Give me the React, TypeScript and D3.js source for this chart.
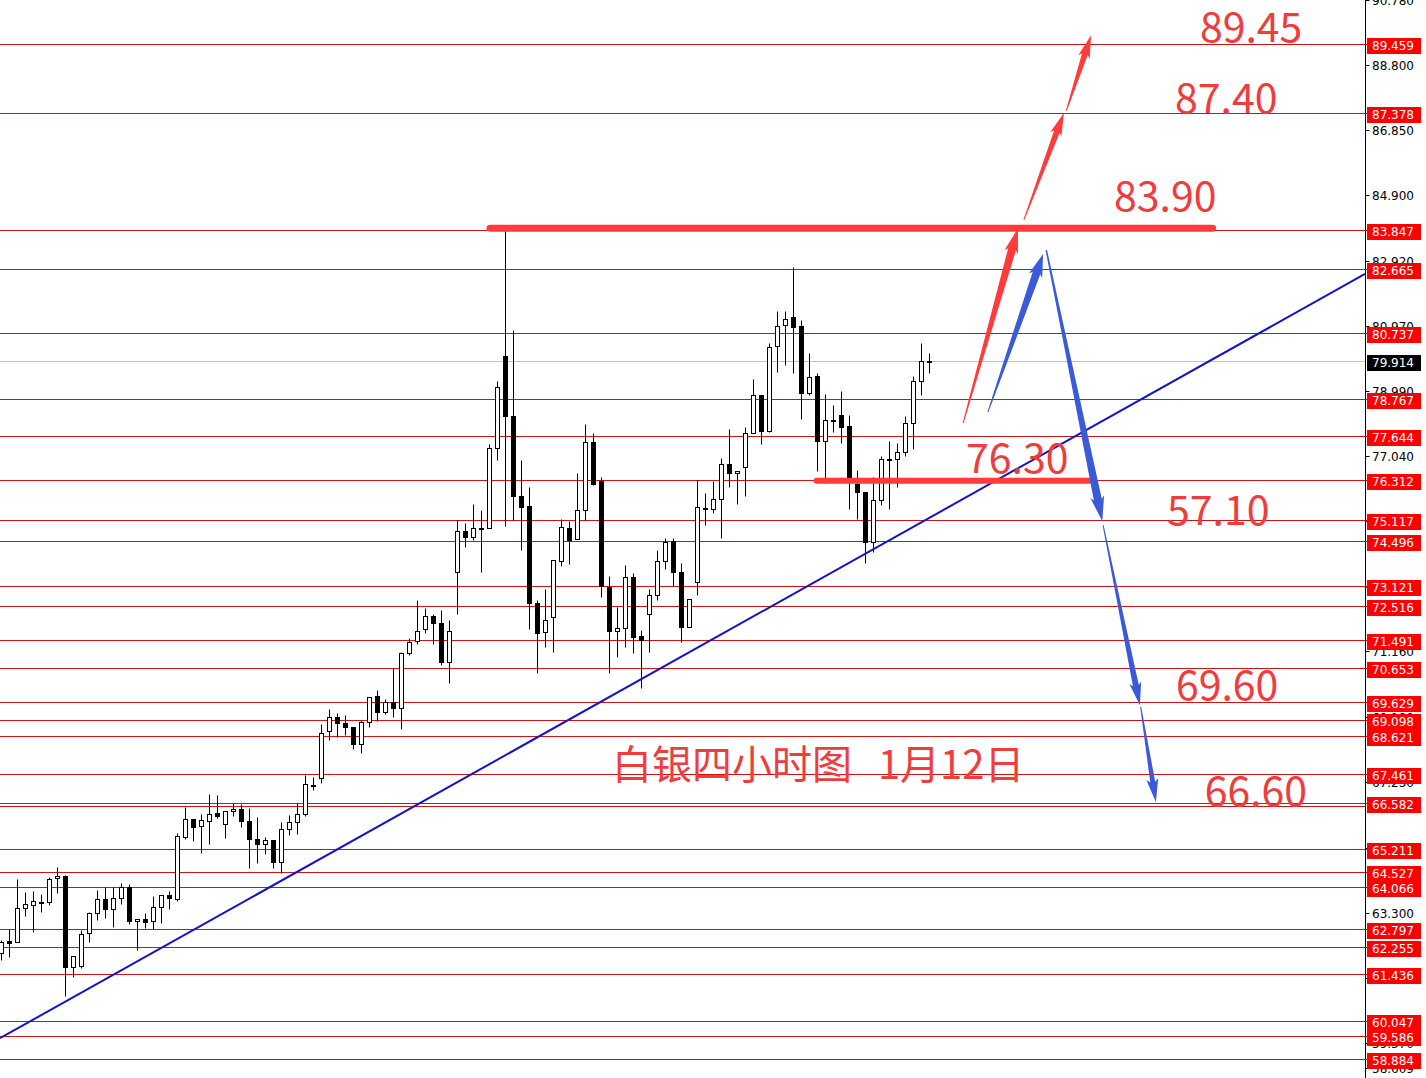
import React from 'react';
import * as d3 from 'd3';

const W = 1426;
const H = 1078;
const AXIS_X = 1365.5;

// candle OHLC (4H silver), index 0..116
const opens = [62.07,62.44,62.42,63.45,63.54,63.62,63.62,64.33,64.39,61.65,61.69,62.67,63.30,63.72,63.42,63.75,64.07,63.04,63.10,63.04,63.47,63.82,63.70,65.56,66.10,65.90,66.06,66.30,65.95,66.36,66.43,66.06,65.50,65.36,65.48,64.83,65.80,66.03,66.26,67.13,67.34,68.76,69.19,69.01,68.87,68.36,69.04,69.81,69.34,69.64,69.47,71.12,71.48,71.82,72.23,72.00,70.85,73.54,74.79,74.61,74.86,74.86,77.27,80.05,78.25,75.84,75.53,72.62,71.75,72.20,73.89,74.86,74.53,75.43,77.47,76.29,73.10,71.78,71.85,73.39,71.62,72.28,72.85,73.89,74.47,73.55,71.88,73.25,75.49,75.46,75.76,76.80,76.52,76.72,77.72,78.89,77.80,80.35,80.98,81.23,80.95,78.94,79.45,77.50,78.12,78.27,77.94,76.19,75.96,74.44,75.71,76.94,76.94,77.15,78.04,79.30,79.90];
const highs = [62.47,62.80,64.30,63.92,63.94,63.87,64.37,64.68,64.42,61.99,62.77,63.31,63.97,64.07,64.07,64.18,64.15,63.10,63.27,63.80,63.82,63.94,65.69,66.47,66.10,66.28,66.88,66.83,66.36,66.60,66.56,66.46,66.18,65.58,65.48,66.03,66.23,66.60,67.44,67.37,68.97,69.44,69.30,69.26,68.87,69.09,69.79,69.99,69.72,70.65,71.14,71.55,72.70,72.48,72.30,72.42,72.10,75.11,75.03,75.61,75.41,77.40,79.30,83.84,80.83,76.92,76.11,72.70,73.05,73.91,75.16,75.09,76.52,78.02,77.72,76.41,73.43,72.50,73.76,73.52,71.80,73.03,74.21,74.56,74.56,73.83,72.75,76.32,75.92,76.29,76.97,77.84,76.58,77.90,79.36,78.89,80.45,81.40,81.40,82.74,81.15,80.15,79.55,78.90,78.57,78.99,78.29,76.62,75.96,76.41,77.04,77.49,77.42,78.24,79.45,80.45,80.13];
const lows = [61.87,61.96,62.41,63.20,62.72,63.32,63.52,63.89,60.79,61.35,61.62,62.42,63.07,63.12,62.87,63.57,62.95,62.17,62.82,62.79,62.97,63.40,63.64,65.50,65.46,65.10,65.36,66.13,65.53,66.20,65.86,64.63,64.78,65.06,64.63,64.49,65.63,65.66,66.20,66.98,67.19,68.49,68.59,68.64,68.22,68.11,68.89,69.07,69.29,69.19,68.81,71.05,71.38,71.72,71.38,70.75,70.20,72.30,74.29,74.51,73.55,74.86,76.92,74.93,75.13,74.21,71.82,70.50,71.30,71.15,73.73,73.79,74.53,75.11,76.16,72.80,70.50,71.00,71.30,71.10,70.05,71.15,72.70,73.63,73.12,71.45,71.88,72.85,74.96,75.33,74.56,76.11,75.61,75.83,77.72,77.40,77.77,79.58,79.78,79.53,78.17,78.87,76.60,76.22,77.77,77.44,75.46,75.16,73.81,74.16,75.56,75.46,76.10,77.04,77.24,78.87,79.53];
const closes = [62.42,62.38,63.45,63.57,63.64,63.61,64.30,64.39,61.65,61.99,62.64,63.30,63.72,63.42,63.75,64.07,63.04,63.10,63.02,63.47,63.82,63.75,65.60,66.10,65.88,66.08,66.28,66.20,66.36,66.43,66.06,65.50,65.36,65.48,64.83,65.80,66.03,66.28,67.16,67.10,68.71,69.19,68.99,68.87,68.36,69.02,69.79,69.34,69.65,69.47,71.12,71.45,71.78,72.23,72.00,70.85,71.78,74.79,74.61,74.86,74.85,77.27,79.11,78.25,75.84,75.51,72.62,71.72,72.10,73.91,74.89,74.51,75.43,77.47,76.19,73.13,71.78,71.85,73.39,71.60,71.50,72.85,73.89,74.46,73.55,71.88,72.75,75.51,75.48,75.76,76.80,76.52,76.58,77.72,78.89,77.80,80.33,80.96,81.18,80.93,78.94,79.42,77.50,78.12,78.11,77.92,76.40,75.96,74.44,75.71,76.94,76.93,77.15,78.04,79.30,79.91,79.914];

// horizontal support/resistance levels with price labels
const levels = [89.459,87.378,83.847,82.665,80.737,78.767,77.644,76.312,75.117,74.496,73.121,72.516,71.491,70.653,69.629,69.098,68.621,67.461,66.582,65.211,64.527,64.066,62.797,62.255,61.436,60.047,59.586,58.884];
const unlabeledLevels = [66.50];
const currentPrice = 79.914;
const axisTicks = [90.78,88.8,86.85,84.9,82.92,80.97,78.99,77.04,75.09,73.11,71.16,69.18,67.23,65.25,63.3,61.32,59.37,58.609];

// trend line (index, price)
const trendIdx = [-0.19, 170.44];
const trendPrice = [59.516, 82.523];

// thick red key levels
const keyLevelPrice = [83.9, 76.3];
const keyLevelFrom = [61.06, 101.9];
const keyLevelTo = [151.4, 136.1];
const keyLevelWidth = [7, 6];

// arrows: [startIdx, startPrice, tipIdx, tipPrice]
const redArrowStartIdx = [120.2, 127.8, 133.1];
const redArrowStartPrice = [78.03, 84.15, 87.43];
const redArrowTipIdx = [127.06, 132.8, 136.2];
const redArrowTipPrice = [83.9, 87.37, 89.71];
const blueArrowStartIdx = [123.3, 130.6, 137.7, 142.4];
const blueArrowStartPrice = [78.36, 83.24, 74.96, 69.49];
const blueArrowTipIdx = [130.2, 137.6, 142.3, 144.3];
const blueArrowTipPrice = [83.12, 75.08, 69.54, 66.63];

// annotation texts
const noteTexts = ['89.45', '87.40', '83.90', '76.30', '57.10', '69.60', '66.60'];
const noteIdx = [149.8, 146.7, 139.06, 120.56, 145.7, 146.8, 150.4];
const notePrice = [89.504, 87.367, 84.417, 76.53, 74.965, 69.697, 66.506];
const titleMain = '白银四小时图';
const titleDate = '1月12日';
const titleIdx = 76.3;
const titlePrice = 67.32;

function arrowPath(x0: number, y0: number, x1: number, y1: number, w0: number, w1: number, hl: number, hw: number) {
  const dx = x1 - x0, dy = y1 - y0;
  const len = Math.hypot(dx, dy);
  const ux = dx / len, uy = dy / len;
  const nx = -uy, ny = ux;
  const bx = x1 - ux * hl, by = y1 - uy * hl;
  const bbx = bx - ux * 3, bby = by - uy * 3;
  const pts = [
    [x0 + nx * w0 / 2, y0 + ny * w0 / 2],
    [bx + nx * w1 / 2, by + ny * w1 / 2],
    [bbx + nx * hw / 2, bby + ny * hw / 2],
    [x1, y1],
    [bbx - nx * hw / 2, bby - ny * hw / 2],
    [bx - nx * w1 / 2, by - ny * w1 / 2],
    [x0 - nx * w0 / 2, y0 - ny * w0 / 2],
  ];
  return 'M' + pts.map(p => p[0].toFixed(2) + ',' + p[1].toFixed(2)).join('L') + 'Z';
}

export default function App() {
  const x = d3.scaleLinear().domain([0, 116]).range([1.5, 929.5]);
  const y = d3.scaleLinear().domain([89.459, 58.884]).range([43.5, 43.5 + (89.459 - 58.884) * 33.22]);
  const py = (v: number) => Math.round(y(v)) + 0.5;

  const lineColor = '#cc1414';
  const red = '#ff3b3b';
  const blue = '#3a5ad8';
  const labelFont = '"DejaVu Sans", sans-serif';
  const cjkFont = '"Noto Sans CJK SC", "Noto Sans", sans-serif';

  const trendLine = d3.line<number>()
    .x((_, i) => x(trendIdx[i]))
    .y((d) => y(d));

  const redSizes = [[1, 8, 22, 14], [1, 6, 20, 12], [1, 6, 20, 12]];
  const blueSizes = [[1, 8, 20, 14], [1.5, 8, 22, 14], [1, 6, 20, 12], [1, 5, 20, 12]];

  return (
    <svg width={W} height={H} style={{ position: 'absolute', left: 0, top: 0, display: 'block', background: '#fff' }}>
      <rect x={0} y={0} width={W} height={H} fill="#fff" />
      <defs>
        <clipPath id="plot">
          <rect x={0} y={0} width={AXIS_X} height={H} />
        </clipPath>
      </defs>

      {/* level lines */}
      {levels.concat(unlabeledLevels).map((v, i) => (
        <line key={'lv' + i} x1={0} x2={1368} y1={py(v)} y2={py(v)} stroke={lineColor} strokeWidth={1} />
      ))}
      <line x1={0} x2={AXIS_X} y1={py(currentPrice)} y2={py(currentPrice)} stroke="#c0c0c0" strokeWidth={1} />

      {/* candles */}
      <g>
        {opens.map((o, i) => {
          const c = closes[i];
          const cx = x(i);
          const top = py(Math.max(o, c));
          const bot = py(Math.min(o, c));
          const bull = c >= o;
          return (
            <g key={'c' + i}>
              <line x1={cx} x2={cx} y1={py(highs[i])} y2={py(lows[i])} stroke="#000" strokeWidth={1} />
              <rect x={cx - 2} y={top} width={4} height={Math.max(bot - top, 1)} fill={bull ? '#fff' : '#000'} stroke="#000" strokeWidth={1} />
            </g>
          );
        })}
      </g>

      {/* trend line */}
      <g clipPath="url(#plot)">
        <path d={trendLine(trendPrice) || ''} stroke="#1414c8" strokeWidth={2} fill="none" />
      </g>

      {/* key levels */}
      {keyLevelPrice.map((v, i) => (
        <line key={'kl' + i} x1={x(keyLevelFrom[i])} x2={x(keyLevelTo[i])} y1={y(v)} y2={y(v)} stroke={red} strokeWidth={keyLevelWidth[i]} strokeLinecap="round" />
      ))}

      {/* arrows */}
      {redArrowStartIdx.map((s, i) => (
        <path key={'ra' + i} d={arrowPath(x(s), y(redArrowStartPrice[i]), x(redArrowTipIdx[i]), y(redArrowTipPrice[i]), redSizes[i][0], redSizes[i][1], redSizes[i][2], redSizes[i][3])} fill={red} />
      ))}
      {blueArrowStartIdx.map((s, i) => (
        <path key={'ba' + i} d={arrowPath(x(s), y(blueArrowStartPrice[i]), x(blueArrowTipIdx[i]), y(blueArrowTipPrice[i]), blueSizes[i][0], blueSizes[i][1], blueSizes[i][2], blueSizes[i][3])} fill={blue} />
      ))}

      {/* annotation text */}
      {noteTexts.map((t, i) => (
        <text key={'nt' + i} x={x(noteIdx[i])} y={y(notePrice[i])} fill="#f03c3c" fontSize={41} fontFamily={cjkFont}>{t}</text>
      ))}
      <text x={x(titleIdx)} y={y(titlePrice)} fill="#f03c3c" fontSize={40} fontFamily={cjkFont}>
        {titleMain}
        <tspan dx={26}>{titleDate}</tspan>
      </text>

      {/* right axis */}
      <rect x={AXIS_X + 0.5} y={0} width={W - AXIS_X} height={H} fill="#fff" />
      <line x1={AXIS_X} x2={AXIS_X} y1={0} y2={H} stroke="#000" strokeWidth={1} />
      {axisTicks.map((v, i) => (
        <g key={'tk' + i}>
          <line x1={AXIS_X} x2={AXIS_X + 4} y1={py(v)} y2={py(v)} stroke="#000" strokeWidth={1} />
          <text x={1372} y={Math.round(y(v)) + 5} fontSize={12} fontFamily={labelFont} fill="#000">{v.toFixed(3)}</text>
        </g>
      ))}
      {levels.map((v, i) => (
        <g key={'lb' + i}>
          <line x1={AXIS_X} x2={1368} y1={py(v)} y2={py(v)} stroke={lineColor} strokeWidth={1} />
          <rect x={1367} y={Math.round(y(v)) - 6} width={54} height={16} fill="#ff0000" />
          <text x={1372} y={Math.round(y(v)) + 6} fontSize={12} fontFamily={labelFont} fill="#fff">{v.toFixed(3)}</text>
        </g>
      ))}
      <rect x={1367} y={Math.round(y(currentPrice)) - 6} width={54} height={16} fill="#000" />
      <text x={1372} y={Math.round(y(currentPrice)) + 6} fontSize={12} fontFamily={labelFont} fill="#fff">{currentPrice.toFixed(3)}</text>
    </svg>
  );
}
